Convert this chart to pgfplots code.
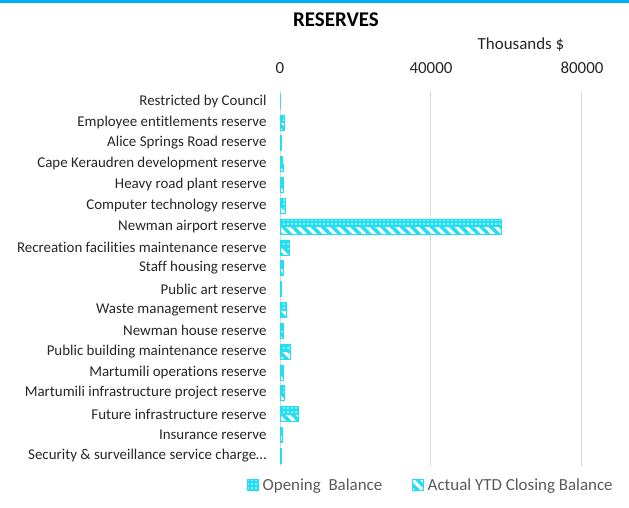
\documentclass[border=0pt]{standalone}
\usepackage{pgfplots}
\pgfplotsset{compat=1.18}
\usepackage{fontspec}
\setmainfont{Carlito}[Ligatures=NoCommon]
\usetikzlibrary{patterns.meta}
\definecolor{barcyan}{RGB}{34,222,242}
\definecolor{topblue}{RGB}{0,176,240}
\definecolor{gridgray}{RGB}{217,217,217}
\definecolor{txt}{RGB}{38,38,38}
\definecolor{legtxt}{RGB}{89,89,89}
\begin{document}
\begin{tikzpicture}
\useasboundingbox (0,0) rectangle (629bp,508bp);
\fill[topblue] (0,505bp) rectangle (629bp,508bp);
\node[font=\bfseries\fontsize{21}{24}\selectfont, text=black] at (336bp,488bp) {RESERVES};
\node[font=\fontsize{17}{20}\selectfont, text=txt] at (521bp,463bp) {Thousands \$};
\begin{axis}[
  at={(280bp,42bp)}, anchor=south west,
  width=302bp, height=375bp, scale only axis,
  xmin=0, xmax=80000, ymin=-0.5, ymax=17.5, y dir=reverse,
  xtick={0,40000,80000}, xticklabel pos=upper,
  scaled x ticks=false,
  /pgf/number format/assume math mode=true,
  /pgf/number format/1000 sep={},
  xticklabel style={font=\fontsize{17}{20}\selectfont, text=txt, yshift=14bp},
  ytick={0,...,17},
  yticklabels={Restricted by Council, Employee entitlements reserve, Alice Springs Road reserve, Cape Keraudren development reserve, Heavy road plant reserve, Computer technology reserve, Newman airport reserve, Recreation facilities maintenance reserve, Staff housing reserve, Public art reserve, Waste management reserve, Newman house reserve, Public building maintenance reserve, Martumili operations reserve, Martumili infrastructure project reserve, Future infrastructure reserve, Insurance reserve, Security \& surveillance service charge…},
  yticklabel style={font=\fontsize{15}{18}\selectfont, text=txt, xshift=-10bp},
  major tick length=0,
  axis line style={draw=none},
  xmajorgrids, grid style={gridgray, line width=1bp},
  xbar, bar width=7.5bp,
  legend style={at={(0.5,0)}, anchor=center, yshift=-19bp, draw=none, fill=none,
    legend columns=2, font=\fontsize{17}{20}\selectfont, text=legtxt,
    /tikz/every odd column/.append style={column sep=2bp},
    /tikz/every even column/.append style={column sep=28bp}},
  legend image code/.code={\draw[#1] (0bp,-5.5bp) rectangle (11bp,5.5bp);},
]
\addplot[draw=barcyan, fill=barcyan, bar shift=3.75bp,
  postaction={pattern={Dots[distance=4bp, radius=0.8bp]}, pattern color=white}]
  coordinates {(0,0) (1100,1) (400,2) (700,3) (930,4) (1250,5) (58500,6) (2550,7) (880,8) (350,9) (1600,10) (880,11) (2570,12) (880,13) (1060,14) (4950,15) (710,16) (350,17)};
\addlegendentry{Opening\ \ Balance}
\addplot[draw=barcyan, fill=white, bar shift=-3.75bp,
  postaction={pattern={Lines[angle=-45, distance=7bp, line width=3.5bp]}, pattern color=barcyan}]
  coordinates {(0,0) (1150,1) (400,2) (750,3) (950,4) (1250,5) (58600,6) (2500,7) (880,8) (350,9) (1600,10) (880,11) (2570,12) (880,13) (1060,14) (4950,15) (710,16) (350,17)};
\addlegendentry{Actual YTD Closing Balance}
\end{axis}
\end{tikzpicture}
\end{document}
